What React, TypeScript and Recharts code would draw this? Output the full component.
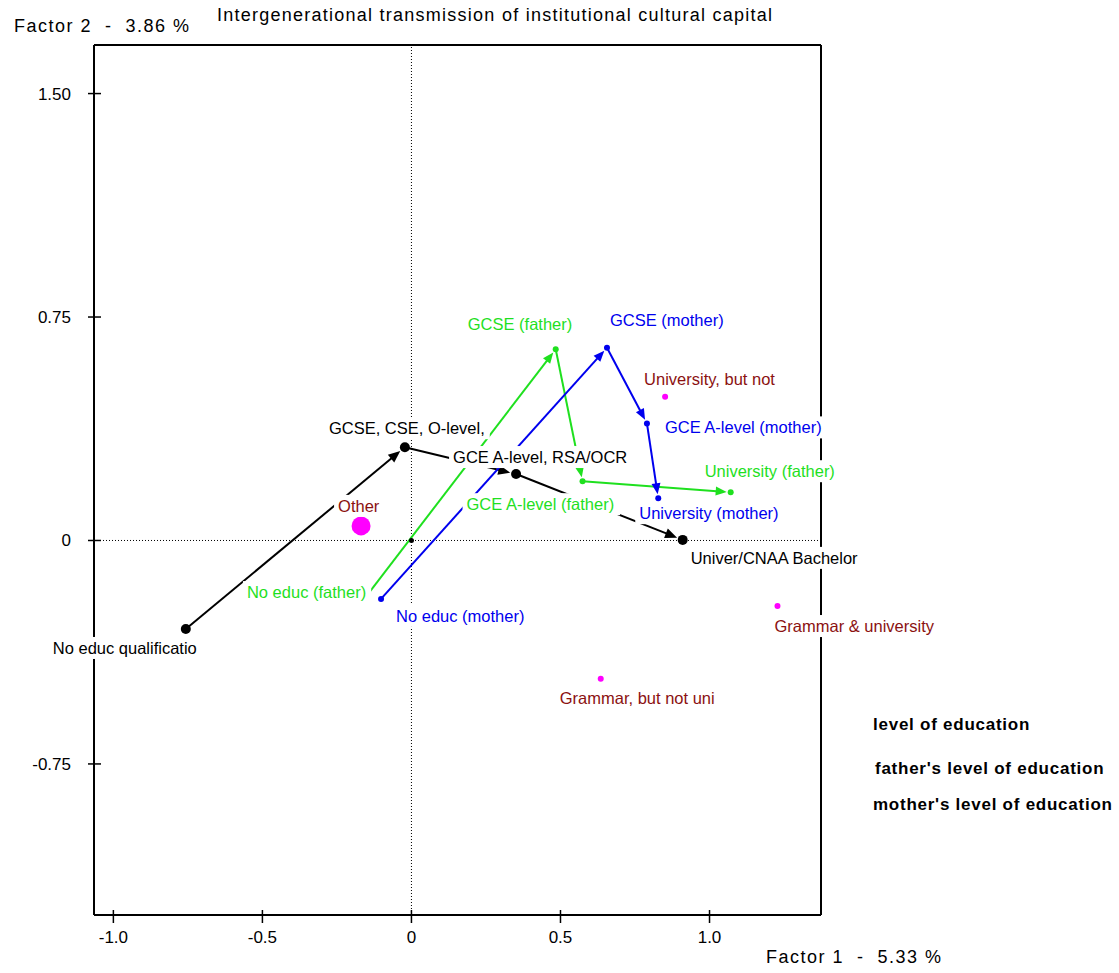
import React from "react";
import { ScatterChart, Scatter, XAxis, YAxis, ReferenceLine, Legend } from "recharts";

const FONT = '"Liberation Sans", Arial, Helvetica, sans-serif';

// factor coordinates
const education = [
  { label: "No educ qualificatio", x: -0.757, y: -0.297 },
  { label: "GCSE, CSE, O-level,", x: -0.022, y: 0.313 },
  { label: "GCE A-level, RSA/OCR", x: 0.351, y: 0.223 },
  { label: "Univer/CNAA Bachelor", x: 0.91, y: 0.002 },
];

const father = [
  { label: "No educ (father)", x: -0.146, y: -0.18 },
  { label: "GCSE (father)", x: 0.484, y: 0.642 },
  { label: "GCE A-level (father)", x: 0.574, y: 0.199 },
  { label: "University (father)", x: 1.071, y: 0.162 },
];

const mother = [
  { label: "No educ (mother)", x: -0.102, y: -0.196 },
  { label: "GCSE (mother)", x: 0.656, y: 0.647 },
  { label: "GCE A-level (mother)", x: 0.79, y: 0.393 },
  { label: "University (mother)", x: 0.828, y: 0.142 },
];

const grammar = [
  { label: "Other", x: -0.169, y: 0.049 },
  { label: "University, but not", x: 0.851, y: 0.482 },
  { label: "Grammar & university", x: 1.228, y: -0.22 },
  { label: "Grammar, but not uni", x: 0.635, y: -0.464 },
];

const origin = [{ x: 0, y: 0 }];

const legendNames = ["level of education", "father's level of education", "mother's level of education"];

const xTicks = [-1, -0.5, 0, 0.5, 1];
const xTickLabels = ["-1.0", "-0.5", "0", "0.5", "1.0"];
const yTicks = [-0.75, 0, 0.75, 1.5];
const yTickLabels = ["-0.75", "0", "0.75", "1.50"];

const X_MIN = -1.065;
const X_MAX = 1.374;
const Y_MIN = -1.257;
const Y_MAX = 1.663;

const GREEN = "#1fe01f";
const BLUE = "#0000ee";
const MAROON = "#8b1111";
const MAGENTA = "#ff00ff";

// where each label sits relative to its point: [dx to text start, dy to text middle]
const labelPos: Record<string, [number, number]> = {
  "No educ qualificatio": [-133, 19],
  "GCSE, CSE, O-level,": [-76, -19],
  "GCE A-level, RSA/OCR": [-63, -17],
  "Univer/CNAA Bachelor": [8, 18],
  "No educ (father)": [-121, -2],
  "GCSE (father)": [-88, -25],
  "GCE A-level (father)": [-116, 23],
  "University (father)": [-26, -21],
  "No educ (mother)": [15, 17],
  "GCSE (mother)": [3, -28],
  "GCE A-level (mother)": [18, 4],
  "University (mother)": [-19, 15],
  Other: [-23, -20],
  "University, but not": [-21, -18],
  "Grammar & university": [-3, 20],
  "Grammar, but not uni": [-41, 19],
};

const LABEL_SIZE = 16.5;

const allLabels = [
  ...education.map((d) => ({ ...d, color: "#000" })),
  ...father.map((d) => ({ ...d, color: GREEN })),
  ...mother.map((d) => ({ ...d, color: BLUE })),
  ...grammar.map((d) => ({ ...d, color: MAROON })),
];

let measureCtx: CanvasRenderingContext2D | null = null;
function textWidth(s: string, font: string) {
  if (!measureCtx) measureCtx = document.createElement("canvas").getContext("2d");
  if (!measureCtx) return s.length * 8;
  measureCtx.font = font;
  return measureCtx.measureText(s).width;
}

function Arrows({ points, color, back, head, half }: any) {
  const parts: React.ReactNode[] = [];
  for (let i = 1; i < points.length; i++) {
    const p = points[i - 1];
    const q = points[i];
    const dx = q.x - p.x;
    const dy = q.y - p.y;
    const len = Math.hypot(dx, dy);
    const ux = dx / len;
    const uy = dy / len;
    const tx = q.x - ux * back;
    const ty = q.y - uy * back;
    const bx = tx - ux * head;
    const by = ty - uy * head;
    parts.push(
      <g key={i}>
        <line x1={p.x} y1={p.y} x2={bx + ux} y2={by + uy} stroke={color} strokeWidth={2} />
        <polygon
          points={`${tx},${ty} ${bx - uy * half},${by + ux * half} ${bx + uy * half},${by - ux * half}`}
          fill={color}
        />
      </g>
    );
  }
  return <g>{parts}</g>;
}

function PointLabel({ cx, cy, payload }: any) {
  const pos = labelPos[payload.label] || [0, 0];
  const w = textWidth(payload.label, `${LABEL_SIZE}px ${FONT}`);
  const x = cx + pos[0];
  const ym = cy + pos[1];
  return (
    <g>
      <rect x={x - 4} y={ym - 11} width={w + 9} height={22} fill="#fff" />
      <text x={x} y={ym + 6} fontSize={LABEL_SIZE} fontFamily={FONT} fill={payload.color}>
        {payload.label}
      </text>
    </g>
  );
}

function XTick({ x, y, payload }: any) {
  return (
    <g>
      <line x1={x} x2={x} y1={y - 5} y2={y + 8} stroke="#000" strokeWidth={1.5} />
      <text x={x} y={y + 28} textAnchor="middle" fontSize={17} fontFamily={FONT} fill="#000">
        {xTickLabels[xTicks.indexOf(payload.value)] ?? payload.value}
      </text>
    </g>
  );
}

function YTick({ x, y, payload }: any) {
  return (
    <g>
      <line x1={x - 6} x2={x + 7} y1={y} y2={y} stroke="#000" strokeWidth={1.5} />
      <text x={x - 23} y={y + 6} textAnchor="end" fontSize={17} fontFamily={FONT} fill="#000">
        {yTickLabels[yTicks.indexOf(payload.value)] ?? payload.value}
      </text>
    </g>
  );
}

function LegendBox() {
  const tops = [0, 44, 80];
  return (
    <div style={{ position: "relative", fontFamily: FONT, fontWeight: "bold", fontSize: 17, letterSpacing: 0.75 }}>
      {legendNames.map((n, i) => (
        <div key={n} style={{ position: "absolute", left: i === 1 ? 2 : 0, top: tops[i], lineHeight: "20px", whiteSpace: "pre" }}>
          {n}
        </div>
      ))}
    </div>
  );
}

const headText: React.CSSProperties = {
  position: "absolute",
  fontFamily: FONT,
  fontSize: 18,
  lineHeight: "20px",
  letterSpacing: 1.25,
  whiteSpace: "pre",
  color: "#000",
};

export default function App() {
  return (
    <div style={{ position: "absolute", left: 0, top: 0, width: 1119, height: 973, background: "#fff" }}>
      <ScatterChart width={1119} height={973} margin={{ top: 45, right: 298, bottom: 18, left: 34 }}>
        <XAxis
          type="number"
          dataKey="x"
          domain={[X_MIN, X_MAX]}
          ticks={xTicks}
          interval={0}
          height={40}
          tickSize={0}
          tickMargin={0}
          tickLine={false}
          axisLine={{ stroke: "#000", strokeWidth: 2 }}
          tick={(p: any) => <XTick {...p} />}
        />
        <YAxis
          type="number"
          dataKey="y"
          domain={[Y_MIN, Y_MAX]}
          ticks={yTicks}
          interval={0}
          width={60}
          tickSize={0}
          tickMargin={0}
          tickLine={false}
          axisLine={{ stroke: "#000", strokeWidth: 2 }}
          tick={(p: any) => <YTick {...p} />}
        />
        <ReferenceLine y={Y_MAX} stroke="#000" strokeWidth={2} ifOverflow="visible" />
        <ReferenceLine x={X_MAX} stroke="#000" strokeWidth={2} ifOverflow="visible" />
        <ReferenceLine x={0} stroke="#000" strokeWidth={1} strokeDasharray="1 2" />
        <ReferenceLine y={0} stroke="#000" strokeWidth={1} strokeDasharray="1 2" />

        <Scatter
          name={legendNames[0]}
          data={education}
          fill="#000"
          isAnimationActive={false}
          line={(lp: any) => <Arrows points={lp.points} color="#000" back={6} head={12} half={5} />}
          shape={(p: any) => <circle cx={p.cx} cy={p.cy} r={5} fill="#000" />}
        />
        <Scatter
          name={legendNames[1]}
          data={father}
          fill={GREEN}
          isAnimationActive={false}
          line={(lp: any) => <Arrows points={lp.points} color={GREEN} back={4} head={11} half={4.5} />}
          shape={(p: any) => <circle cx={p.cx} cy={p.cy} r={3} fill={GREEN} />}
        />
        <Scatter
          name={legendNames[2]}
          data={mother}
          fill={BLUE}
          isAnimationActive={false}
          line={(lp: any) => <Arrows points={lp.points} color={BLUE} back={4} head={11} half={4.5} />}
          shape={(p: any) => <circle cx={p.cx} cy={p.cy} r={3} fill={BLUE} />}
        />
        <Scatter
          name="grammar school"
          data={grammar}
          fill={MAGENTA}
          legendType="none"
          isAnimationActive={false}
          shape={(p: any) => (
            <circle cx={p.cx} cy={p.cy} r={p.payload.label === "Other" ? 9.5 : 3} fill={MAGENTA} />
          )}
        />
        <Scatter
          name="origin"
          data={origin}
          fill="#000"
          legendType="none"
          isAnimationActive={false}
          shape={(p: any) => <circle cx={p.cx} cy={p.cy} r={2.5} fill="#000" />}
        />
        <Scatter
          name="labels"
          data={allLabels}
          legendType="none"
          isAnimationActive={false}
          zIndex={2500}
          shape={(p: any) => <PointLabel {...p} />}
        />
        <Legend
          layout="vertical"
          align="center"
          verticalAlign="middle"
          content={() => <LegendBox />}
          wrapperStyle={{ left: 873, top: 715, width: 246, height: 110 }}
        />
      </ScatterChart>
      <div style={{ ...headText, left: 217, top: 5 }}>Intergenerational transmission of institutional cultural capital</div>
      <div style={{ ...headText, left: 14, top: 16, letterSpacing: 1.5 }}>{"Factor 2  -  3.86 %"}</div>
      <div style={{ ...headText, left: 766, top: 947, letterSpacing: 1.5 }}>{"Factor 1  -  5.33 %"}</div>
    </div>
  );
}
